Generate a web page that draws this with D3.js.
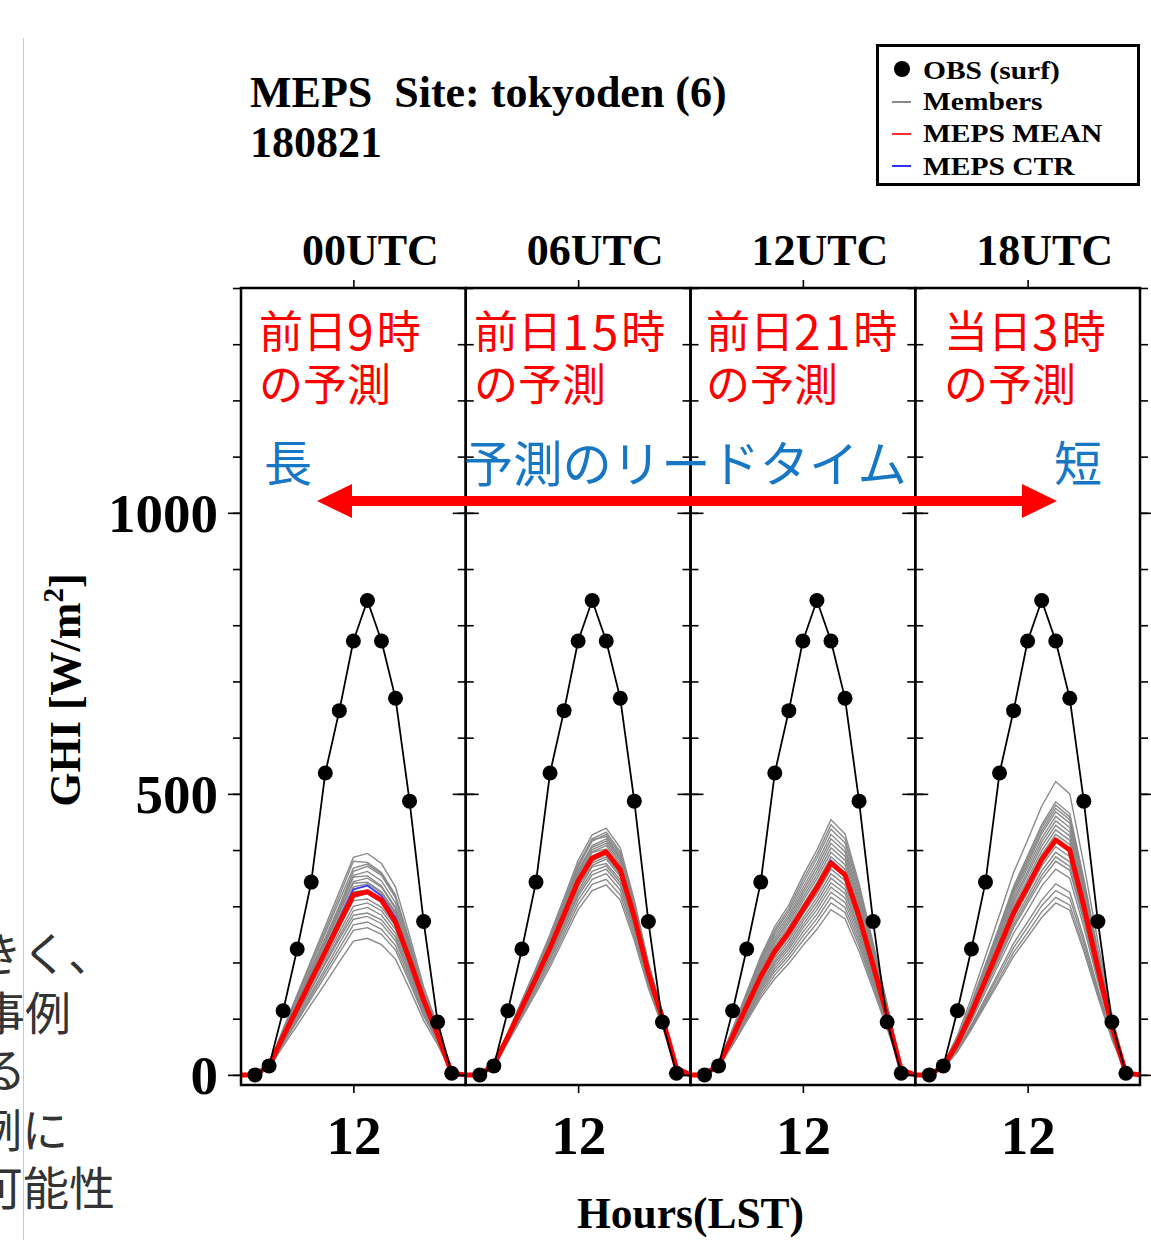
<!DOCTYPE html>
<html><head><meta charset="utf-8">
<script src="https://cdn.jsdelivr.net/npm/d3@7/dist/d3.min.js"></script>
<style>body{margin:0;background:#fff;}svg{display:block;}</style>
</head><body>
<svg id="chart" width="1151" height="1240"></svg>
<script>
// ---------------- data ----------------
const hours = [4,5,6,7,8,9,10,11,12,13,14,15,16,17,18,19,20];
const obsHours = [5,6,7,8,9,10,11,12,13,14,15,16,17,18,19];
const obsGHI = [0,16,114,224,343,537,648,772,844,772,670,487,273,94,3];

const panelNames = ["00UTC","06UTC","12UTC","18UTC"];
const initLabels = ["前日9時","前日15時","前日21時","当日3時"];
const initLabel2 = "の予測";
const yTickLabels = [0,500,1000];
const yMinorTicks = [0,100,200,300,400,500,600,700,800,900,1000,1100,1200,1300,1400];
const xTickLabels = [12];

const meanP1 = [0,0,16,68,118,169,219,270,320,326,311,272,205,133,72,3,0];
const meanP2 = [0,0,18,68,120,172,226,285,345,386,397,365,281,181,101,12,0];
const meanP3 = [0,0,18,68,122,175,220,254,294,333,377,356,282,195,105,9,0];
const meanP4 = [0,0,15,56,110,169,228,288,335,383,418,400,300,190,86,3,0];

const ctrP1 = [0,0,16,69,121,172,224,277,330,337,318,280,208,133,73,3,0];
const ctrP2 = [0,0,18,69,122,175,229,288,348,384,395,362,279,180,100,12,0];
const ctrP3 = [0,0,18,69,123,177,223,257,298,337,382,358,283,196,106,9,0];
const ctrP4 = [0,0,15,57,111,170,230,290,337,385,420,401,303,192,87,3,0];

const membersP1 = [
[0,0,19,82,143,204,265,326,387,394,376,334,248,157,87,4,0],
[0,0,19,80,140,200,258,318,380,378,360,320,238,150,84,4,0],
[0,0,18,78,136,194,252,310,368,375,358,317,236,150,83,3,0],
[0,0,18,76,131,188,244,300,362,371,355,315,232,147,81,3,0],
[0,0,18,75,131,188,243,300,355,362,345,306,228,144,80,3,0],
[0,0,17,73,127,183,238,294,352,354,336,298,222,141,78,3,0],
[0,0,17,73,127,182,235,290,344,350,334,296,220,140,77,3,0],
[0,0,17,72,126,181,234,288,341,343,326,290,215,137,76,3,0],
[0,0,17,71,123,176,228,282,334,340,324,288,214,136,75,3,0],
[0,0,16,70,122,174,226,278,330,336,321,285,211,134,74,3,0],
[0,0,16,68,118,170,221,272,326,328,311,276,205,131,73,3,0],
[0,0,16,67,117,167,216,267,316,322,307,273,203,128,71,3,0],
[0,0,15,66,115,165,214,263,310,313,298,265,197,125,70,3,0],
[0,0,15,64,111,159,206,254,300,306,292,259,192,122,68,3,0],
[0,0,15,62,108,154,200,247,292,298,284,252,187,119,66,3,0],
[0,0,14,61,106,152,197,242,284,288,276,245,182,116,64,3,0],
[0,0,14,59,102,146,189,234,277,282,269,239,177,112,62,3,0],
[0,0,13,57,98,141,183,225,267,272,259,230,171,108,60,3,0],
[0,0,13,55,95,136,176,217,257,262,250,222,165,105,58,2,0],
[0,0,12,51,88,126,163,201,238,243,232,206,153,97,54,2,0]
];
const membersP2 = [
[0,0,20,75,133,190,250,315,382,427,439,404,311,200,112,13,0],
[0,0,20,74,131,187,246,310,375,420,432,397,306,197,110,13,0],
[0,0,19,73,129,185,244,307,372,416,428,393,303,195,109,13,0],
[0,0,19,73,128,184,241,304,370,418,424,388,300,193,108,13,0],
[0,0,19,72,127,182,239,302,365,408,420,386,297,191,107,13,0],
[0,0,19,71,126,180,237,299,362,405,416,383,294,190,106,13,0],
[0,0,19,71,125,179,235,296,358,401,412,379,292,188,105,12,0],
[0,0,19,70,123,177,232,293,355,397,408,375,289,186,104,12,0],
[0,0,18,69,122,175,230,290,351,396,402,370,286,184,103,12,0],
[0,0,18,69,121,173,228,287,348,389,400,368,283,182,102,12,0],
[0,0,18,68,120,171,225,284,344,385,396,364,280,180,101,12,0],
[0,0,18,67,118,170,223,281,341,381,392,360,277,179,100,12,0],
[0,0,18,66,117,168,221,278,337,377,388,357,275,177,99,12,0],
[0,0,17,66,116,166,219,276,334,373,384,353,272,175,98,12,0],
[0,0,17,65,114,164,215,271,328,370,376,347,268,172,96,11,0],
[0,0,17,64,112,161,212,267,323,362,372,342,263,170,95,11,0],
[0,0,17,63,111,159,208,263,318,356,366,337,259,167,93,11,0],
[0,0,16,61,108,155,204,257,311,348,358,329,253,163,91,11,0],
[0,0,16,60,105,151,198,250,303,339,348,320,246,159,89,11,0],
[0,0,15,58,102,146,192,243,294,328,338,311,239,154,86,10,0]
];
const membersP3 = [
[0,0,22,82,147,211,264,302,354,400,454,429,340,235,126,11,0],
[0,0,21,80,144,207,258,296,347,392,445,420,333,230,124,11,0],
[0,0,21,79,141,203,254,291,340,385,437,413,327,226,122,10,0],
[0,0,20,77,138,199,249,285,333,377,428,404,320,221,119,10,0],
[0,0,20,76,136,195,244,280,327,370,420,397,314,217,117,10,0],
[0,0,20,74,133,191,239,275,321,363,412,389,308,213,115,10,0],
[0,0,19,73,131,188,235,270,315,356,404,382,302,209,113,10,0],
[0,0,19,71,128,184,230,264,309,349,396,374,296,205,110,9,0],
[0,0,19,70,126,180,225,259,302,342,388,366,290,201,108,9,0],
[0,0,18,69,123,177,221,255,297,336,381,360,285,197,106,9,0],
[0,0,18,67,121,174,217,250,292,329,374,353,280,193,104,9,0],
[0,0,17,66,118,170,213,245,286,322,366,346,274,189,102,9,0],
[0,0,17,65,116,166,208,240,279,315,358,338,268,185,100,9,0],
[0,0,17,63,113,162,203,234,273,308,350,330,262,181,97,8,0],
[0,0,16,62,111,159,199,229,267,301,342,323,256,177,95,8,0],
[0,0,16,60,108,155,194,224,261,294,334,315,250,173,93,8,0],
[0,0,16,59,105,151,189,218,254,286,325,307,243,168,91,8,0],
[0,0,15,57,102,147,184,212,247,278,316,298,236,163,88,8,0],
[0,0,15,55,99,142,178,206,239,270,306,289,229,158,85,7,0],
[0,0,14,53,95,137,171,198,230,259,294,278,220,152,82,7,0]
];
const membersP4 = [
[0,0,19,70,137,211,285,360,418,478,522,500,375,237,107,4,0],
[0,0,17,65,128,197,265,335,390,445,486,465,349,221,100,3,0],
[0,0,17,64,126,194,262,331,385,440,480,459,344,218,99,3,0],
[0,0,17,64,125,192,259,327,380,434,474,454,340,215,98,3,0],
[0,0,17,63,123,189,255,323,375,429,468,448,336,213,96,3,0],
[0,0,17,62,121,186,251,317,369,421,460,440,330,209,95,3,0],
[0,0,16,61,119,183,246,311,362,414,452,432,324,205,93,3,0],
[0,0,16,59,117,179,242,306,356,407,444,425,319,202,91,3,0],
[0,0,16,58,115,176,238,300,349,399,436,417,313,198,90,3,0],
[0,0,15,57,113,173,233,295,343,392,428,410,307,195,88,3,0],
[0,0,15,57,112,171,229,286,333,385,416,398,302,191,86,3,0],
[0,0,15,54,107,164,221,280,325,372,406,388,291,184,84,3,0],
[0,0,14,53,104,160,216,273,317,363,396,379,284,180,81,3,0],
[0,0,14,52,102,157,212,267,311,355,388,371,278,176,80,3,0],
[0,0,14,51,100,154,207,262,305,348,380,364,273,173,78,3,0],
[0,0,13,49,96,148,200,252,293,336,366,350,263,166,75,3,0],
[0,0,12,46,89,137,185,234,272,311,340,325,244,154,70,2,0],
[0,0,12,44,86,133,179,226,263,301,328,314,236,149,68,2,0],
[0,0,11,42,83,128,172,218,253,290,316,302,227,144,65,2,0],
[0,0,11,41,81,124,167,211,245,280,306,293,220,139,63,2,0]
];

const leftNoteLines = ["大きく、","の事例","ある","事例に","可能性"];

// ---------------- layout ----------------
const svg = d3.select("#chart");
const SERIF = "'Liberation Serif','Times New Roman',serif";
const JP = "'Noto Sans CJK JP','Noto Sans CJK SC',sans-serif";
const frame = {left:241, right:1140, top:288, bottom:1085};
const pw = (frame.right - frame.left) / 4;

const panelsData = [
  {members: membersP1, mean: meanP1, ctr: ctrP1},
  {members: membersP2, mean: meanP2, ctr: ctrP2},
  {members: membersP3, mean: meanP3, ctr: ctrP3},
  {members: membersP4, mean: meanP4, ctr: ctrP4}
];

const y = d3.scaleLinear().domain([-18, 1400]).range([frame.bottom, frame.top]);

function stxt(g, x, yy, s, size, opts={}) {
  const sx = opts.sx || 1, sy = opts.sy || 1;
  return g.append("text")
    .attr("transform", `translate(${x},${yy}) scale(${sx},${sy})`)
    .attr("font-family", opts.family || SERIF)
    .attr("font-weight", opts.weight || "bold")
    .attr("font-size", size)
    .attr("text-anchor", opts.anchor || "start")
    .attr("fill", opts.fill || "#000")
    .text(s);
}

// left cut-off note text + slide border
const noteG = svg.append("g");
const noteEnds = [114, 71, 26, 68, 115];
const noteYs = [951, 1010, 1067, 1127, 1185];
leftNoteLines.forEach((s, i) => {
  noteG.append("text").attr("x", noteEnds[i]).attr("y", noteYs[i])
    .attr("dominant-baseline", "central")
    .attr("text-anchor", "end").attr("font-family", JP).attr("font-size", 46)
    .attr("fill", "#333").text(s);
});
svg.append("line").attr("x1", 23.5).attr("x2", 23.5).attr("y1", 38).attr("y2", 1240)
  .attr("stroke", "#c8c8c8").attr("stroke-width", 1);

// title
stxt(svg, 250, 107, "MEPS\u00a0\u00a0Site: tokyoden (6)", 44);
stxt(svg, 250, 156.5, "180821", 44);

// legend
const lg = svg.append("g");
lg.append("rect").attr("x", 877.5).attr("y", 45.5).attr("width", 261).attr("height", 139)
  .attr("fill", "#fff").attr("stroke", "#000").attr("stroke-width", 3);
lg.append("circle").attr("cx", 902).attr("cy", 69).attr("r", 8).attr("fill", "#000");
[["#888", 102], ["#ff3030", 134], ["#3030ff", 166]].forEach(([c, yy]) => {
  lg.append("line").attr("x1", 892).attr("x2", 911).attr("y1", yy).attr("y2", yy)
    .attr("stroke", c).attr("stroke-width", 2);
});
const legendLabels = ["OBS (surf)", "Members", "MEPS MEAN", "MEPS CTR"];
[78.5, 110, 142, 175].forEach((yy, i) => stxt(lg, 923, yy, legendLabels[i], 29.5, {sy: 0.82}));

// panels
const clipDefs = svg.append("defs");
panelsData.forEach((pd, i) => {
  const x0 = frame.left + i * pw, x1 = x0 + pw;
  const x = d3.scaleLinear().domain([4, 20]).range([x0, x1]);
  const g = svg.append("g");
  clipDefs.append("clipPath").attr("id", "clip" + i).append("rect")
    .attr("x", x0).attr("y", frame.top).attr("width", pw).attr("height", frame.bottom - frame.top);

  // header
  stxt(svg, (x0 + x1) / 2 + 17, 265, panelNames[i], 44, {anchor: "middle"});

  // y ticks on both sides, outward
  const minorL = d3.axisLeft(y).tickValues(yMinorTicks).tickSize(8).tickFormat("");
  const minorR = d3.axisRight(y).tickValues(yMinorTicks).tickSize(8).tickFormat("");
  const majorL = d3.axisLeft(y).tickValues(yTickLabels).tickSize(13).tickFormat("");
  const majorR = d3.axisRight(y).tickValues(yTickLabels).tickSize(13).tickFormat("");
  [[minorL, x0], [majorL, x0], [minorR, x1], [majorR, x1]].forEach(([ax, xx]) => {
    const a = g.append("g").attr("transform", `translate(${xx},0)`).call(ax);
    a.select(".domain").remove();
    a.selectAll("line").attr("stroke", "#000").attr("stroke-width", 1.6);
  });
  // x ticks top & bottom
  const xb = g.append("g").attr("transform", `translate(0,${frame.bottom})`)
    .call(d3.axisBottom(x).tickValues(xTickLabels).tickSize(8));
  xb.select(".domain").remove();
  xb.selectAll("line").attr("stroke", "#000").attr("stroke-width", 1.6);
  xb.selectAll("text").attr("y", 69).attr("dy", 0).attr("fill", "#000")
    .attr("font-family", SERIF).attr("font-weight", "bold").attr("font-size", 55);
  const xt = g.append("g").attr("transform", `translate(0,${frame.top})`)
    .call(d3.axisTop(x).tickValues(xTickLabels).tickSize(8).tickFormat(""));
  xt.select(".domain").remove();
  xt.selectAll("line").attr("stroke", "#000").attr("stroke-width", 1.6);

  const plot = g.append("g").attr("clip-path", `url(#clip${i})`);
  const line = d3.line().x((d, k) => x(hours[k])).y(d => y(d));
  plot.selectAll("path.mem").data(pd.members).join("path").attr("class", "mem")
    .attr("d", line).attr("fill", "none").attr("stroke", "#8a8a8a").attr("stroke-width", 1.4);
  plot.append("path").attr("d", line(pd.ctr)).attr("fill", "none")
    .attr("stroke", "#3b3bff").attr("stroke-width", 1.6);
  plot.append("path").attr("d", line(pd.mean)).attr("fill", "none")
    .attr("stroke", "#ff0000").attr("stroke-width", 5).attr("stroke-linejoin", "round");
  const oline = d3.line().x((d, k) => x(obsHours[k])).y(d => y(d));
  plot.append("path").attr("d", oline(obsGHI)).attr("fill", "none")
    .attr("stroke", "#000").attr("stroke-width", 1.8);
  plot.selectAll("circle.obs").data(obsGHI).join("circle").attr("class", "obs")
    .attr("cx", (d, k) => x(obsHours[k])).attr("cy", d => y(d)).attr("r", 7.5).attr("fill", "#000");
});

// y tick labels
const yl = svg.append("g").attr("transform", `translate(${frame.left},0)`)
  .call(d3.axisLeft(y).tickValues(yTickLabels).tickSize(0).tickPadding(23).tickFormat(d3.format("d")));
yl.select(".domain").remove();
yl.selectAll("text").attr("dy", 0).attr("y", 19).attr("fill", "#000")
  .attr("font-family", SERIF).attr("font-weight", "bold").attr("font-size", 55);

// frames
for (let i = 0; i < 4; i++) {
  svg.append("rect").attr("x", frame.left + i * pw).attr("y", frame.top)
    .attr("width", pw).attr("height", frame.bottom - frame.top)
    .attr("fill", "none").attr("stroke", "#000").attr("stroke-width", 2.5);
}

// axis titles
const yt = svg.append("text").attr("transform", "translate(80,690) rotate(-90)")
  .attr("text-anchor", "middle").attr("font-family", SERIF).attr("font-weight", "bold")
  .attr("font-size", 44);
yt.append("tspan").text("GHI [W/m");
yt.append("tspan").attr("font-size", 29).attr("dy", -17).text("2");
yt.append("tspan").attr("dy", 17).text("]");
stxt(svg, (frame.left + frame.right) / 2, 1228, "Hours(LST)", 43.5, {anchor: "middle"});

// annotations
const ann = svg.append("g");
const annX = [259, 474, 706, 944];
initLabels.forEach((s, i) => {
  const t = ann.append("text").attr("x", annX[i]).attr("y", 329).attr("dominant-baseline", "central")
    .attr("font-family", JP).attr("font-size", 44).attr("fill", "#ff0000");
  // digits in the original are slightly larger / wider than the kanji
  s.match(/\d+|\D+/g).forEach(run => {
    const ts = t.append("tspan").text(run);
    if (/\d/.test(run)) ts.attr("font-size", 48).attr("letter-spacing", 3);
  });
  ann.append("text").attr("x", annX[i]).attr("y", 382).attr("dominant-baseline", "central")
    .attr("font-family", JP).attr("font-size", 44).attr("fill", "#ff0000").text(initLabel2);
});
const blue = "#1777c4";
[["長", 264, 48], ["予測のリードタイム", 464, 49.3], ["短", 1054, 48]].forEach(([s, xx, fs]) => {
  ann.append("text").attr("x", xx).attr("y", 460).attr("dominant-baseline", "central")
    .attr("font-family", JP).attr("font-size", fs).attr("fill", blue).text(s);
});
// double arrow
ann.append("rect").attr("x", 348).attr("y", 496).attr("width", 676).attr("height", 10).attr("fill", "#ff0000");
ann.append("polygon").attr("points", "317,501 352,484 352,518").attr("fill", "#ff0000");
ann.append("polygon").attr("points", "1057,501 1022,484 1022,518").attr("fill", "#ff0000");
</script>
</body></html>
